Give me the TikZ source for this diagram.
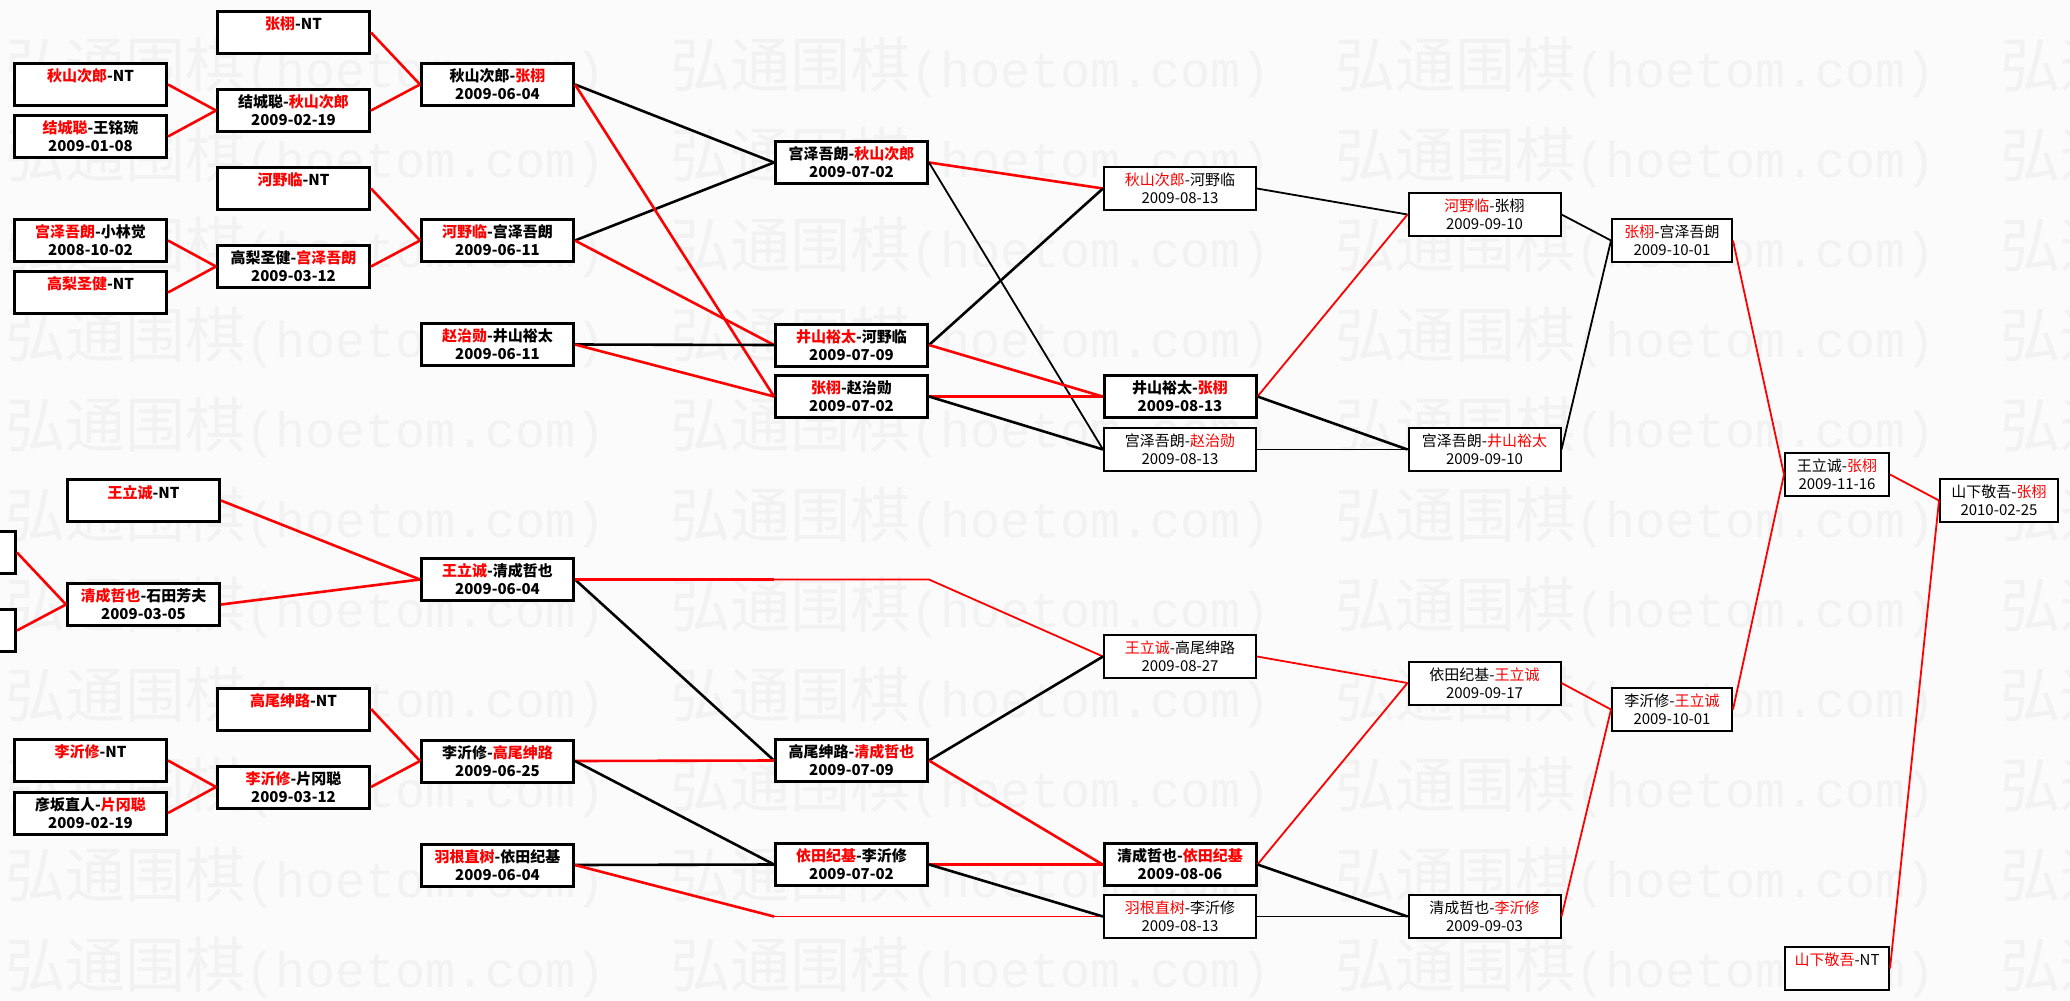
\documentclass[tikz,border=0pt]{standalone}
\usepackage{fontspec}
\setmainfont{Noto Sans CJK SC}
\newfontfamily\wmmono{Liberation Mono}
\newcommand\wmark{\makebox[665pt][l]{弘通围棋{\wmmono\fontsize{50}{50}\selectfont(hoetom.com)}}}

\begin{document}
\begin{tikzpicture}[x=1pt,y=1pt,yscale=-1,
    game/.style={draw, fill=white, inner sep=0pt, align=center, minimum height=42pt},
    gamebold/.style={game, line width=3pt, font=\fontsize{15}{18}\selectfont\bfseries},
    gamethin/.style={game, line width=2pt, minimum height=43pt, font=\fontsize{15}{18}\selectfont},
    wa/.style={minimum width=152pt},
    wf/.style={minimum width=120pt},
    wg/.style={minimum width=104pt},
    wh/.style={minimum width=118pt},
    hit/.style={draw={rgb, 255:red, 255; green, 0; blue, 0}, line width=2.6pt, line join=round},
    miss/.style={draw=black, line width=2.6pt, line join=round},
    fine/.style={line width=1.8pt},
    wm/.style={anchor=west, inner sep=0pt, text={rgb, 255:red, 242; green, 242; blue, 242}, font=\fontsize{60}{60}\selectfont}]
    \useasboundingbox (0,0) rectangle (2070,1001);
    \clip (0,0) rectangle (2070,1001);
    \fill [fill={rgb, 255:red, 251; green, 251; blue, 251}] (0,0) rectangle (2070,1001);
    \node [wm] (wm1) at (5,67) {\wmark\wmark\wmark\wmark};
    \node [wm] (wm2) at (5,157) {\wmark\wmark\wmark\wmark};
    \node [wm] (wm3) at (5,247) {\wmark\wmark\wmark\wmark};
    \node [wm] (wm4) at (5,337) {\wmark\wmark\wmark\wmark};
    \node [wm] (wm5) at (5,427) {\wmark\wmark\wmark\wmark};
    \node [wm] (wm6) at (5,517) {\wmark\wmark\wmark\wmark};
    \node [wm] (wm7) at (5,607) {\wmark\wmark\wmark\wmark};
    \node [wm] (wm8) at (5,697) {\wmark\wmark\wmark\wmark};
    \node [wm] (wm9) at (5,787) {\wmark\wmark\wmark\wmark};
    \node [wm] (wm10) at (5,877) {\wmark\wmark\wmark\wmark};
    \node [wm] (wm11) at (5,967) {\wmark\wmark\wmark\wmark};

    \node [gamebold, wa] (a1) at (90.5,84.5) {\textcolor{red}{秋山次郎}-NT\\~};
    \node [gamebold, wa] (a2) at (90.5,136.5) {\textcolor{red}{结城聪}-王铭琬\\2009-01-08};
    \node [gamebold, wa] (a3) at (90.5,240.5) {\textcolor{red}{宫泽吾朗}-小林觉\\2008-10-02};
    \node [gamebold, wa] (a4) at (90.5,292.5) {\textcolor{red}{高梨圣健}-NT\\~};
    \node [gamebold, wa] (a5) at (90.5,760.5) {\textcolor{red}{李沂修}-NT\\~};
    \node [gamebold, wa] (a6) at (90.5,813) {彦坂直人-\textcolor{red}{片冈聪}\\2009-02-19};
    \node [gamebold, wa] (p1) at (-60.5,552.5) {};
    \node [gamebold, wa] (p2) at (-60.5,630.5) {};

    \node [gamebold, wa] (b1) at (293.5,32.5) {\textcolor{red}{张栩}-NT\\~};
    \node [gamebold, wa] (b2) at (293.5,110.5) {结城聪-\textcolor{red}{秋山次郎}\\2009-02-19};
    \node [gamebold, wa] (b3) at (293.5,188.5) {\textcolor{red}{河野临}-NT\\~};
    \node [gamebold, wa] (b4) at (293.5,266.5) {高梨圣健-\textcolor{red}{宫泽吾朗}\\2009-03-12};
    \node [gamebold, wa] (s1) at (143.5,500.5) {\textcolor{red}{王立诚}-NT\\~};
    \node [gamebold, wa] (s2) at (143.5,604.5) {\textcolor{red}{清成哲也}-石田芳夫\\2009-03-05};
    \node [gamebold, wa] (b5) at (293.5,709) {\textcolor{red}{高尾绅路}-NT\\~};
    \node [gamebold, wa] (b6) at (293.5,787) {\textcolor{red}{李沂修}-片冈聪\\2009-03-12};

    \node [gamebold, wa] (c1) at (497.5,84.5) {秋山次郎-\textcolor{red}{张栩}\\2009-06-04};
    \node [gamebold, wa] (c2) at (497.5,240.5) {\textcolor{red}{河野临}-宫泽吾朗\\2009-06-11};
    \node [gamebold, wa] (c3) at (497.5,344.5) {\textcolor{red}{赵治勋}-井山裕太\\2009-06-11};
    \node [gamebold, wa] (c4) at (497.5,579.5) {\textcolor{red}{王立诚}-清成哲也\\2009-06-04};
    \node [gamebold, wa] (c5) at (497.5,761) {李沂修-\textcolor{red}{高尾绅路}\\2009-06-25};
    \node [gamebold, wa] (c6) at (497.5,865) {\textcolor{red}{羽根直树}-依田纪基\\2009-06-04};

    \node [gamebold, wa] (d1) at (851.5,162.5) {宫泽吾朗-\textcolor{red}{秋山次郎}\\2009-07-02};
    \node [gamebold, wa] (d2) at (851.5,345) {\textcolor{red}{井山裕太}-河野临\\2009-07-09};
    \node [gamebold, wa] (d3) at (851.5,396.5) {\textcolor{red}{张栩}-赵治勋\\2009-07-02};
    \node [gamebold, wa] (d4) at (851.5,760.5) {高尾绅路-\textcolor{red}{清成哲也}\\2009-07-09};
    \node [gamebold, wa] (d5) at (851.5,864.5) {\textcolor{red}{依田纪基}-李沂修\\2009-07-02};

    \node [gamethin, wa] (e1) at (1180,188.5) {\textcolor{red}{秋山次郎}-河野临\\2009-08-13};
    \node [gamebold, wa] (e2) at (1180,396.5) {井山裕太-\textcolor{red}{张栩}\\2009-08-13};
    \node [gamethin, wa] (e3) at (1180,449.5) {宫泽吾朗-\textcolor{red}{赵治勋}\\2009-08-13};
    \node [gamethin, wa] (e4) at (1180,656.5) {\textcolor{red}{王立诚}-高尾绅路\\2009-08-27};
    \node [gamebold, wa] (e5) at (1180,864.5) {清成哲也-\textcolor{red}{依田纪基}\\2009-08-06};
    \node [gamethin, wa] (e6) at (1180,916.5) {\textcolor{red}{羽根直树}-李沂修\\2009-08-13};

    \node [gamethin, wa] (f1) at (1484.5,214.5) {\textcolor{red}{河野临}-张栩\\2009-09-10};
    \node [gamethin, wa] (f2) at (1484.5,449.5) {宫泽吾朗-\textcolor{red}{井山裕太}\\2009-09-10};
    \node [gamethin, wa] (f3) at (1484.5,683) {依田纪基-\textcolor{red}{王立诚}\\2009-09-17};
    \node [gamethin, wa] (f4) at (1484.5,916.5) {清成哲也-\textcolor{red}{李沂修}\\2009-09-03};

    \node [gamethin, wf] (g1) at (1672,240.5) {\textcolor{red}{张栩}-宫泽吾朗\\2009-10-01};
    \node [gamethin, wf] (g2) at (1672,709.5) {李沂修-\textcolor{red}{王立诚}\\2009-10-01};
    \node [gamethin, wg] (h1) at (1837,474.5) {王立诚-\textcolor{red}{张栩}\\2009-11-16};
    \node [gamethin, wg] (h2) at (1837,968.5) {\textcolor{red}{山下敬吾}-NT\\~};
    \node [gamethin, wh] (i1) at (1999,500.5) {山下敬吾-\textcolor{red}{张栩}\\2010-02-25};

    \draw [hit] (a1.east) -- (b2.west);
    \draw [hit] (a2.east) -- (b2.west);
    \draw [hit] (a3.east) -- (b4.west);
    \draw [hit] (a4.east) -- (b4.west);
    \draw [hit] (a5.east) -- (b6.west);
    \draw [hit] (a6.east) -- (b6.west);
    \draw [hit] (p1.east) -- (s2.west);
    \draw [hit] (p2.east) -- (s2.west);

    \draw [hit] (b1.east) -- (c1.west);
    \draw [hit] (b2.east) -- (c1.west);
    \draw [hit] (b3.east) -- (c2.west);
    \draw [hit] (b4.east) -- (c2.west);
    \draw [hit] (s1.east) -- (c4.west);
    \draw [hit] (s2.east) -- (c4.west);
    \draw [hit] (b5.east) -- (c5.west);
    \draw [hit] (b6.east) -- (c5.west);

    \draw [miss] (c1.east) -- (d1.west);
    \draw [miss] (c2.east) -- (d1.west);
    \draw [hit] (c1.east) -- (d3.west);
    \draw [hit] (c2.east) -- (d2.west);
    \draw [miss] (c3.east) -- (d2.west);
    \draw [hit] (c3.east) -- (d3.west);
    \draw [miss] (c4.east) -- (d4.west);
    \draw [hit] (c4.east) -- (c4.east -| d4.west);
    \draw [hit, fine] (c4.east -| d4.west) -- (c4.east -| d4.east) -- (e4.west);
    \draw [hit] (c5.east) -- (d4.west);
    \draw [miss] (c5.east) -- (d5.west);
    \draw [miss] (c6.east) -- (d5.west);
    \draw [hit] (c6.east) -- (e6.west -| d5.west);
    \draw [hit, fine] (e6.west -| d5.west) -- (e6.west);

    \draw [hit] (d1.east) -- (e1.west);
    \draw [miss, fine] (d1.east) -- (e3.west);
    \draw [miss] (d2.east) -- (e1.west);
    \draw [hit] (d2.east) -- (e2.west);
    \draw [hit] (d3.east) -- (e2.west);
    \draw [miss] (d3.east) -- (e3.west);
    \draw [miss] (d4.east) -- (e4.west);
    \draw [hit] (d4.east) -- (e5.west);
    \draw [hit] (d5.east) -- (e5.west);
    \draw [miss] (d5.east) -- (e6.west);

    \draw [miss, fine] (e1.east) -- (f1.west);
    \draw [hit, fine] (e2.east) -- (f1.west);
    \draw [miss] (e2.east) -- (f2.west);
    \draw [miss, fine] (e3.east) -- (f2.west);
    \draw [hit, fine] (e4.east) -- (f3.west);
    \draw [hit, fine] (e5.east) -- (f3.west);
    \draw [miss] (e5.east) -- (f4.west);
    \draw [miss, fine] (e6.east) -- (f4.west);

    \draw [miss, fine] (f1.east) -- (g1.west);
    \draw [miss, fine] (f2.east) -- (g1.west);
    \draw [hit, fine] (f3.east) -- (g2.west);
    \draw [hit, fine] (f4.east) -- (g2.west);
    \draw [hit, fine] (g1.east) -- (h1.west);
    \draw [hit, fine] (g2.east) -- (h1.west);
    \draw [hit, fine] (h1.east) -- (i1.west);
    \draw [hit, fine] (h2.east) -- (i1.west);
\end{tikzpicture}
\end{document}
